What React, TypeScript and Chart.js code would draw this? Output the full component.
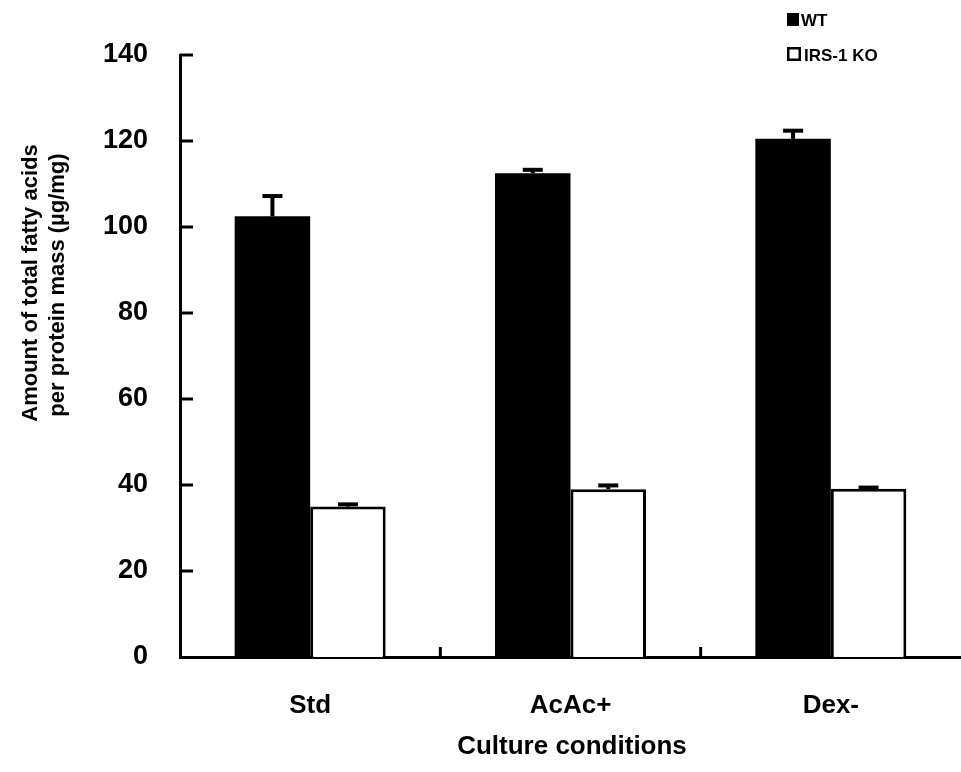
import React, { useEffect, useRef } from "react";
import { Chart, registerables } from "chart.js";

Chart.register(...registerables);

const categories = ["Std", "AcAc+", "Dex-"];
const wtValues = [102.5, 112.5, 120.5];
const wtErrors = [4.7, 0.8, 1.9];
const koValues = [35, 39, 39.1];
const koErrors = [0.5, 0.9, 0.3];
const yTicks = [0, 20, 40, 60, 80, 100, 120, 140];
const seriesNames = ["WT", "IRS-1 KO"];
const xTitle = "Culture conditions";
const yTitleLines = ["Amount of total fatty acids", "per protein mass (\u00b5g/mg)"];

const FONT = "'Liberation Sans', Arial, sans-serif";

const errorBarPlugin = {
  id: "errorBars",
  afterDatasetsDraw(chart: any) {
    const ctx = chart.ctx;
    const y = chart.scales.y;
    const errs = [wtErrors, koErrors];
    chart.data.datasets.forEach((ds: any, di: number) => {
      const meta = chart.getDatasetMeta(di);
      meta.data.forEach((bar: any, i: number) => {
        const v = ds.data[i];
        const top = y.getPixelForValue(v + errs[di][i]);
        const base = y.getPixelForValue(v);
        ctx.save();
        ctx.strokeStyle = "#000";
        ctx.lineWidth = 4;
        ctx.beginPath();
        ctx.moveTo(bar.x, base);
        ctx.lineTo(bar.x, top);
        ctx.stroke();
        ctx.beginPath();
        ctx.moveTo(bar.x - 10, top);
        ctx.lineTo(bar.x + 10, top);
        ctx.stroke();
        ctx.restore();
      });
    });
  },
};

const decorPlugin = {
  id: "decor",
  afterDraw(chart: any) {
    const ctx = chart.ctx;
    const { left, bottom } = chart.chartArea;
    const ys = chart.scales.y;
    const xs = chart.scales.x;
    ctx.save();
    ctx.strokeStyle = "#000";
    ctx.lineWidth = 3;
    yTicks.forEach((t) => {
      if (t === 0) return;
      const py = ys.getPixelForValue(t);
      ctx.beginPath();
      ctx.moveTo(left, py);
      ctx.lineTo(left + 13, py);
      ctx.stroke();
    });
    for (let i = 0; i < categories.length - 1; i++) {
      const px = (xs.getPixelForValue(i) + xs.getPixelForValue(i + 1)) / 2;
      ctx.beginPath();
      ctx.moveTo(px, bottom);
      ctx.lineTo(px, bottom - 10);
      ctx.stroke();
    }
    ctx.fillStyle = "#000";
    ctx.font = `bold 26px ${FONT}`;
    ctx.textAlign = "center";
    ctx.textBaseline = "middle";
    ctx.fillText(xTitle, 572, 747);
    ctx.font = `bold 22px ${FONT}`;
    ctx.textBaseline = "alphabetic";
    const yPos = [
      [37, 283],
      [64, 285],
    ];
    yTitleLines.forEach((line, i) => {
      ctx.save();
      ctx.translate(yPos[i][0], yPos[i][1]);
      ctx.rotate(-Math.PI / 2);
      ctx.fillText(line, 0, 0);
      ctx.restore();
    });
    ctx.textAlign = "left";
    ctx.font = `bold 17px ${FONT}`;
    ctx.fillRect(787, 13, 12, 13);
    ctx.fillText(seriesNames[0], 801, 26);
    ctx.lineWidth = 2.5;
    ctx.fillStyle = "#fff";
    ctx.fillRect(788, 48, 12, 12);
    ctx.strokeRect(788.25, 48.25, 11.5, 11.5);
    ctx.fillStyle = "#000";
    ctx.fillText(seriesNames[1], 804, 61);
    ctx.restore();
  },
};

export default function App() {
  const ref = useRef<HTMLCanvasElement>(null);
  useEffect(() => {
    document.body.style.margin = "0";
    const chart = new Chart(ref.current as HTMLCanvasElement, {
      type: "bar",
      data: {
        labels: categories,
        datasets: [
          {
            label: seriesNames[0],
            data: wtValues,
            backgroundColor: "#000",
            borderColor: "#000",
            borderWidth: 0,
            categoryPercentage: 0.58,
            barPercentage: 1.0,
          },
          {
            label: seriesNames[1],
            data: koValues,
            backgroundColor: "#fff",
            borderColor: "#000",
            borderWidth: 3,
            categoryPercentage: 0.58,
            barPercentage: 1.0,
          },
        ],
      },
      options: {
        animation: false,
        responsive: false,
        layout: { padding: { top: 55, right: 0, left: 0, bottom: 0 } },
        plugins: { legend: { display: false }, tooltip: { enabled: false } },
        scales: {
          x: {
            grid: { display: false },
            border: { display: true, color: "#000", width: 3 },
            ticks: { color: "#000", font: { family: FONT, size: 26, weight: "bold" }, padding: 25 },
            afterFit(scale: any) {
              scale.height = 115;
            },
          },
          y: {
            min: 0,
            max: 140,
            grid: { display: false },
            border: { display: true, color: "#000", width: 3 },
            ticks: {
              stepSize: 20,
              color: "#000",
              font: { family: FONT, size: 27, weight: "bold" },
              padding: 24,
            },
            afterFit(scale: any) {
              scale.width = 180;
            },
          },
        },
      },
      plugins: [errorBarPlugin, decorPlugin],
    });
    return () => chart.destroy();
  }, []);
  return (
    <div style={{ position: "absolute", left: 0, top: 0, width: 961, height: 772, background: "#fff" }}>
      <canvas ref={ref} width={961} height={772} />
    </div>
  );
}
